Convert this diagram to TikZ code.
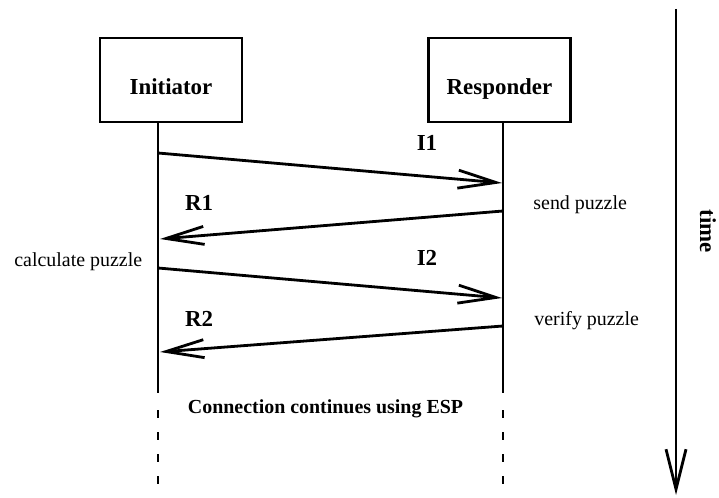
\documentclass[tikz,border=0pt]{standalone}
\usepackage{fontspec}
\setmainfont{Liberation Serif}
\usetikzlibrary{arrows.meta}
\begin{document}
\begin{tikzpicture}[x=1bp,y=-1bp, line width=2.8bp,
  box/.style={draw, line width=2.8bp, minimum width=142bp, minimum height=84bp, inner sep=0pt},
  biglbl/.style={font=\fontsize{23}{26}\selectfont\bfseries, anchor=base, inner sep=0pt},
  note/.style={font=\fontsize{20}{24}\selectfont, anchor=base west, inner sep=0pt},
  arr/.style={-{Straight Barb[length=38bp,width=18bp]}},
  dashlife/.style={dash pattern=on 8bp off 14bp},
  ]
\useasboundingbox (0,0) rectangle (719,498);

% boxes
\node[box] (ini) at (171,80) {};
\node[box] (res) at (499.5,80) {};
\node[biglbl] (initxt) at (171,95) {Initiator};
\node[biglbl] (restxt) at (499.5,95) {Responder};

% lifelines
\coordinate (ia) at (158,122);
\coordinate (ib) at (158,393);
\coordinate (ic) at (158,410);
\coordinate (id) at (158,488);
\coordinate (ra) at (503,122);
\coordinate (rb) at (503,393);
\coordinate (rc) at (503,410);
\coordinate (rd) at (503,488);
\draw (ia) -- (ib);
\draw (ra) -- (rb);
\draw[dashlife] (ic) -- (id);
\draw[dashlife] (rc) -- (rd);

% messages
\coordinate (i1s) at (158,153);
\coordinate (i1e) at (502,183);
\coordinate (r1s) at (503,211);
\coordinate (r1e) at (160,239);
\coordinate (i2s) at (158,268);
\coordinate (i2e) at (502,298);
\coordinate (r2s) at (503,326);
\coordinate (r2e) at (160,352);
\draw[arr] (i1s) -- (i1e);
\draw[arr] (r1s) -- (r1e);
\draw[arr] (i2s) -- (i2e);
\draw[arr] (r2s) -- (r2e);

\node[biglbl] (li1) at (427,151) {I1};
\node[biglbl] (lr1) at (199,211) {R1};
\node[biglbl] (li2) at (427,266) {I2};
\node[biglbl] (lr2) at (199,326) {R2};

\node[note] (send) at (532,210) {send puzzle};
\node[note] (calc) at (13,267) {calculate puzzle};
\node[note] (veri) at (533,325) {verify puzzle};

\node[font=\fontsize{20}{24}\selectfont\bfseries, anchor=base, inner sep=0pt] (esp) at (325.5,413) {Connection continues using ESP};

% time arrow
\coordinate (t0) at (676,9);
\coordinate (t1) at (676,495);
\draw[-{Straight Barb[length=40bp,width=20bp]}] (t0) -- (t1);
\node[font=\fontsize{23}{26}\selectfont\bfseries, rotate=-90, inner sep=0pt] (time) at (708,231.5) {time};
\end{tikzpicture}
\end{document}
